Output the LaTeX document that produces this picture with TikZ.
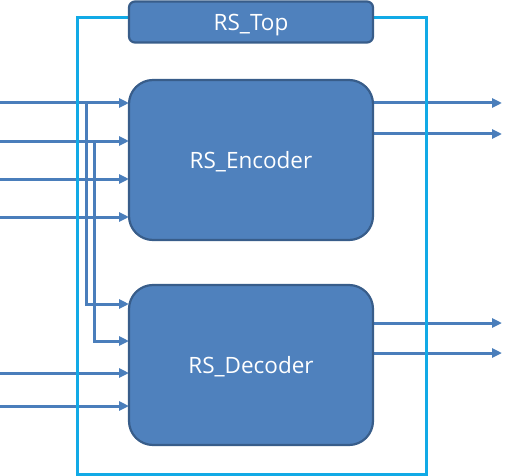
\documentclass[tikz,border=0pt]{standalone}
\usepackage{fontspec}
\setmainfont{Open Sans}
\usetikzlibrary{arrows.meta, positioning, calc}
\definecolor{blkfill}{RGB}{79,129,189}
\definecolor{blkline}{RGB}{56,93,138}
\definecolor{wire}{RGB}{74,126,187}
\definecolor{frame}{RGB}{17,170,230}

\tikzset{
  block/.style={draw=blkline, line width=2.2pt, fill=blkfill, rounded corners=24pt,
    minimum width=244pt, minimum height=160pt, text=white, text depth=0pt,
    font=\fontsize{22.5}{26}\selectfont},
  topblock/.style={block, rounded corners=6pt, minimum height=41pt},
  sig/.style={draw=wire, line width=3pt, -{Triangle[length=10pt, width=9pt]}},
  outer/.style={draw=frame, line width=3pt}
}

\begin{document}
\begin{tikzpicture}[x=1pt, y=-1pt]
  \useasboundingbox (0,0) rectangle (511,476);

  % input and output ends
  \coordinate (ei1) at (0,103);
  \coordinate (ei2) at (0,141);
  \coordinate (ei3) at (0,179);
  \coordinate (ei4) at (0,217);
  \coordinate (di1) at (0,373);
  \coordinate (di2) at (0,406);
  \coordinate (eo1) at (502,103);
  \coordinate (eo2) at (502,134);
  \coordinate (do1) at (502,323);
  \coordinate (do2) at (502,353);
  \coordinate (tap1) at (86,103);
  \coordinate (tap2) at (94,141);
  \coordinate (db1) at (0,304);
  \coordinate (db2) at (0,341);

  % signals
  \foreach \i in {ei1,ei2,ei3,ei4}
    \draw[sig] (\i) -- (129,0 |- \i);
  \foreach \i in {di1,di2}
    \draw[sig] (\i) -- (129,0 |- \i);
  \draw[sig] (tap1) |- (129,0 |- db1);
  \draw[sig] (tap2) |- (129,0 |- db2);
  \foreach \o in {eo1,eo2,do1,do2}
    \draw[sig] (373,0 |- \o) -- (\o);

  % wrapper frame
  \draw[outer] (77,18) rectangle (426,474);

  \node[topblock] (top) at (251,22) {RS\_Top};
  \node[block] (enc) at (251,160) {RS\_Encoder};
  \node[block] (dec) at (251,365) {RS\_Decoder};
\end{tikzpicture}
\end{document}
